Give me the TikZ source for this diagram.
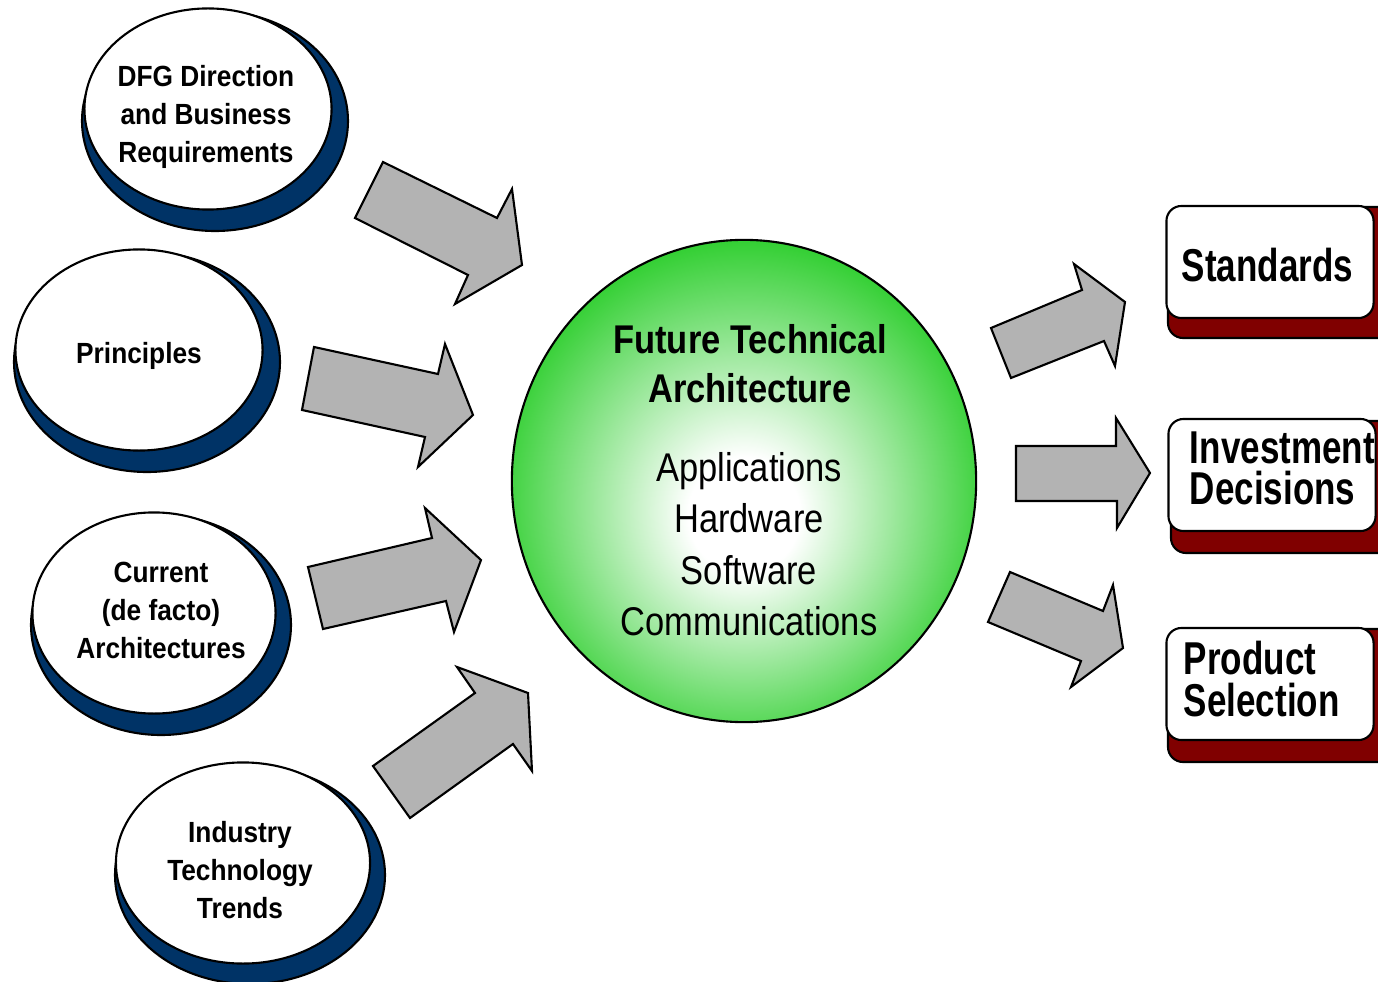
\documentclass[tikz,border=0pt]{standalone}
\usepackage{fontspec}
\setmainfont{Liberation Sans}
\newfontfamily\ovalfont[FakeStretch=0.9]{Liberation Sans}
\newfontfamily\hubfont[FakeStretch=0.86]{Liberation Sans}
\newfontfamily\boxfont[FakeStretch=0.76]{Liberation Sans}
\usetikzlibrary{shapes.geometric}
\definecolor{ovalnavy}{RGB}{0,51,102}
\definecolor{boxred}{RGB}{128,0,0}
\definecolor{arrowgrey}{RGB}{179,179,179}
\definecolor{hubgreen}{RGB}{20,200,20}
\colorlet{hubmid}{hubgreen!50!white}
\pgfdeclareradialshading{hubshade}{\pgfpoint{0bp}{-4bp}}{color(0bp)=(white); color(6bp)=(white); color(18bp)=(hubmid); color(30bp)=(hubgreen); color(50bp)=(hubgreen)}
\tikzset{
  topic/.style={ellipse, draw=black, fill=white, line width=0.6pt, inner sep=0pt,
    minimum width=2.47cm, minimum height=2.01cm},
  topictext/.style={align=center, inner sep=0pt,
    font=\ovalfont\bfseries\fontsize{8.3}{10.8}\selectfont},
  topicshadow/.style={fill=ovalnavy, draw=black, line width=0.6pt},
  hub/.style={ellipse, draw=black, line width=0.6pt, shading=hubshade,
    minimum width=4.64cm, minimum height=4.82cm},
  hubtitle/.style={align=center, font=\hubfont\bfseries\fontsize{11.4}{13.9}\selectfont},
  hublist/.style={align=center, font=\hubfont\fontsize{11.4}{14.6}\selectfont},
  outcome/.style={rectangle, rounded corners=0.15cm, draw=black, fill=white, line width=0.6pt,
    minimum width=2.07cm, minimum height=1.12cm},
  outcometext/.style={text width=1.78cm, inner sep=0pt, align=left,
    font=\boxfont\bfseries\fontsize{13.1}{11.7}\selectfont},
  outcomeshadow/.style={fill=boxred, draw=black, line width=0.6pt, rounded corners=0.15cm},
  bigarrow/.style={fill=arrowgrey, draw=black, line width=0.6pt, line join=miter}
}
\begin{document}
\begin{tikzpicture}[x=0.01cm, y=-0.01cm]
\useasboundingbox (0,0) rectangle (1378,982);
% inputs
\draw[topicshadow] (215,121) ellipse [x radius=133, y radius=110];
\node[topic] (dfg) at (208,109) {};
\node[topictext] (dfgtext) at (206,117) {DFG Direction\\and Business\\Requirements};
\draw[topicshadow] (147,362) ellipse [x radius=133, y radius=110];
\node[topic] (principles) at (139,350) {};
\node[topictext] (principlestext) at (139,356) {Principles};
\draw[topicshadow] (161,625) ellipse [x radius=130, y radius=110];
\node[topic, minimum width=2.43cm] (current) at (154,613) {};
\node[topictext] (currenttext) at (161,610) {Current\\(de facto)\\Architectures};
\draw[topicshadow] (250,875) ellipse [x radius=135, y radius=109];
\node[topic, minimum width=2.54cm] (industry) at (243,863) {};
\node[topictext] (industrytext) at (240,870) {Industry\\Technology\\Trends};
% centre
\node[hub] (fta) at (744,481) {};
\node[hubtitle] (ftatitle) at (750,364) {Future Technical\\Architecture};
\node[hublist] (ftaparts) at (749,544) {Applications\\Hardware\\Software\\Communications};
% outputs
\draw[outcomeshadow] (1168,207) rectangle (1400,338);
\node[outcome] (standards) at (1270,262) {};
\node[outcometext] (standardstext) at (1271,265) {Standards};
\draw[outcomeshadow] (1171,421) rectangle (1400,553);
\node[outcome] (investment) at (1272,475) {};
\node[outcometext] (investmenttext) at (1279,468) {Investment\\Decisions};
\draw[outcomeshadow] (1168,629) rectangle (1400,762);
\node[outcome] (product) at (1270,684) {};
\node[outcometext] (producttext) at (1273,679) {Product\\Selection};
% block arrows
\draw[bigarrow] (383,162) -- (497,218) -- (512,189) -- (522,265) -- (455,304) -- (468,275) -- (355,218) -- cycle;
\draw[bigarrow] (314,347) -- (438,374) -- (445,344) -- (473,415) -- (418,467) -- (425,437) -- (302,410) -- cycle;
\draw[bigarrow] (308,567) -- (432,538) -- (425,508) -- (481,560) -- (454,632) -- (446,601) -- (323,629) -- cycle;
\draw[bigarrow] (373,766) -- (475,693) -- (457,667) -- (528,693) -- (532,771) -- (513,744) -- (410,818) -- cycle;
\draw[bigarrow] (991,328) -- (1082,290) -- (1074,264) -- (1125,302) -- (1115,366) -- (1104,341) -- (1011,378) -- cycle;
\draw[bigarrow] (1016,446) -- (1116,446) -- (1116,418) -- (1150,473) -- (1117,528) -- (1117,501) -- (1016,501) -- cycle;
\draw[bigarrow] (1010,572) -- (1103,611) -- (1113,585) -- (1123,648) -- (1071,687) -- (1081,661) -- (988,622) -- cycle;
\end{tikzpicture}
\end{document}
